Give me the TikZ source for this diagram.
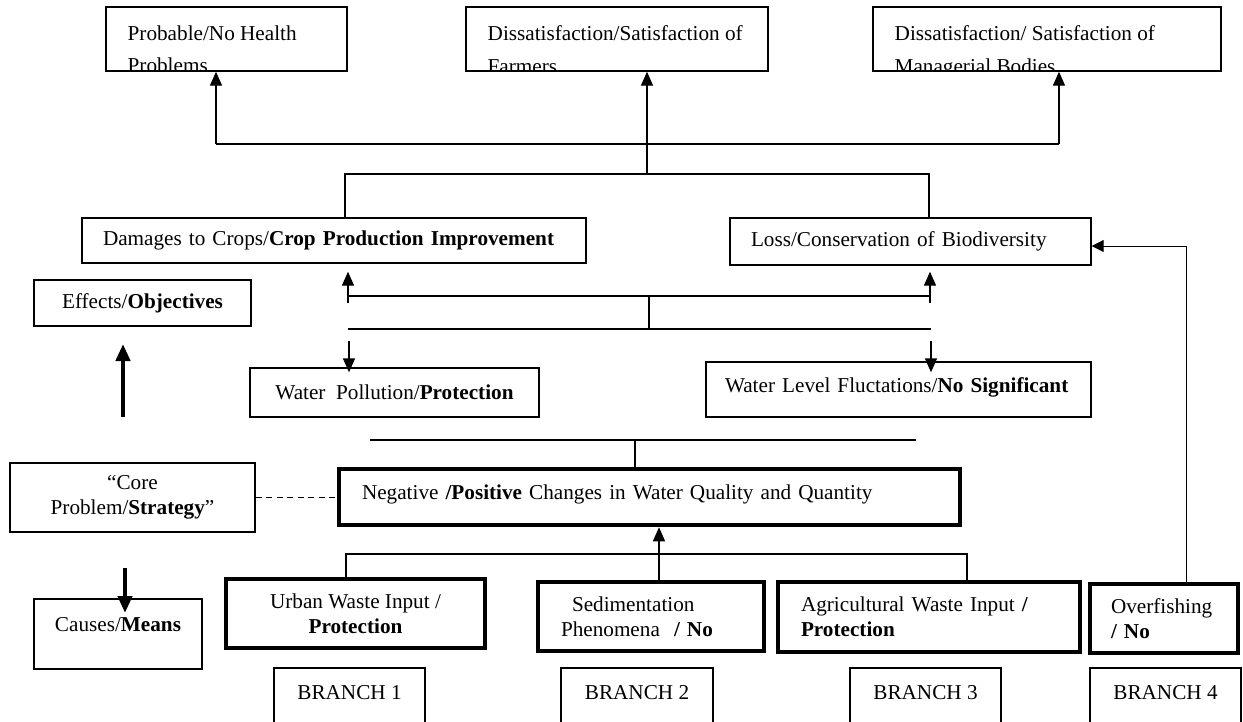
\documentclass[tikz,border=0pt]{standalone}
\usepackage{fontspec}
\setmainfont{Liberation Serif}
\usetikzlibrary{calc,arrows.meta}
\tikzset{
  box/.style={draw, line width=1.4pt, inner sep=0pt, align=center},
  heavy/.style={draw, line width=4.5pt, inner sep=0pt, align=center},
  link/.style={draw, line width=1.4pt},
  arr/.style={link, -{Triangle[length=14pt,width=12pt]}},
  fb/.style={draw, line width=1pt, -{Triangle[length=12pt,width=12pt]}},
  fat/.style={draw, line width=4.5pt, -{Triangle[length=17pt,width=14pt]}},
  dashline/.style={draw, line width=1.2pt, dash pattern=on 6pt off 4.5pt},
  % top row: text runs past the lower border and is cut there
  topbox/.style 2 args={box, minimum height=64pt,
    path picture={\node[draw=none, align=left, inner sep=0pt, minimum width=0pt, minimum height=0pt,
      anchor=north west, font=\fontsize{21.2}{32.5}\selectfont] (#1)
      at ($(path picture bounding box.north west)+(21pt,-18pt)$) {#2};}}
}

\begin{document}
\begin{tikzpicture}[x=1pt, y=-1pt, font=\fontsize{21.2}{25}\selectfont]
  \useasboundingbox (0,0) rectangle (1243,721);

  % effects / objectives
  \node[topbox={hlth-t}{Probable/No Health\\Problems}, minimum width=241pt] (hlth) at (226.5,39) {};
  \node[topbox={frmr-t}{Dissatisfaction/Satisfaction of\\Farmers}, minimum width=302pt] (frmr) at (617,39) {};
  \node[topbox={mngr-t}{Dissatisfaction/ Satisfaction of\\Managerial Bodies}, minimum width=348pt] (mngr) at (1047,39) {};

  \node[box, align=left, minimum height=45pt, inner xsep=21pt, text width=462pt] (dmg) at (334,240.5)
    {Damages to Crops/\textbf{Crop Production Improvement}};
  \node[box, align=left, minimum height=47pt, inner xsep=21pt, text width=319pt] (loss) at (910.5,241.5)
    {Loss/Conservation of Biodiversity};

  \node[box, minimum height=49pt, minimum width=289pt] (poll) at (394.5,392.5)
    {Water\ \ Pollution/\textbf{Protection}};
  \node[box, align=left, minimum height=55pt, inner xsep=19pt, text width=347pt,
        text height=15pt, text depth=10pt] (levl) at (898.5,389.5)
    {Water Level Fluctations/\textbf{No Significant}};

  % core problem
  \node[heavy, align=left, minimum height=56pt, inner xsep=23pt, text width=575pt,
        text height=15pt, text depth=11pt] (core) at (649.5,497)
    {Negative \textbf{/Positive} Changes in Water Quality and Quantity};

  % causes / means
  \node[heavy, minimum width=259pt, minimum height=69pt] (urbn) at (355.5,613.5)
    {Urban Waste Input /\\\textbf{Protection}};
  \node[heavy, align=left, minimum height=69pt, inner xsep=23pt, text width=180pt] (sedi) at (651,616.5)
    {\hspace*{11pt}Sedimentation\\Phenomena\ \ \textbf{/ No}};
  \node[heavy, align=left, minimum height=70pt, inner xsep=23pt, text width=256pt] (agri) at (929,617)
    {Agricultural Waste Input \textbf{/}\\\textbf{Protection}};
  \node[heavy, align=left, minimum height=69pt, inner xsep=21pt, text width=106pt] (ovrf) at (1164,618.5)
    {Overfishing\\\textbf{/ No}};

  % side legend
  \node[box, minimum width=217pt, minimum height=46pt] (eff) at (142.5,303) {Effects/\textbf{Objectives}};
  \node[box, minimum width=245pt, minimum height=69pt] (prob) at (132.5,497.5)
    {“Core\\Problem/\textbf{Strategy}”};
  \node[box, minimum width=168pt, minimum height=70pt, text height=15pt, text depth=21pt] (caus) at (118,634)
    {Causes/\textbf{Means}};

  % branches
  \foreach \n/\x/\w in {1/349.5/151, 2/637/152, 3/925.5/151, 4/1165.5/151}
    \node[box, minimum width=\w pt, minimum height=72pt, text height=15pt, text depth=25pt] (br\n) at (\x,704)
      {BRANCH \n};

  \coordinate (t1) at (216,144);
  \coordinate (t2) at (1059,144);
  \coordinate (t0) at (647,174);
  \coordinate (s1) at (345,174);
  \coordinate (s2) at (929,174);
  \coordinate (h1) at (348,296);
  \coordinate (h2) at (931,296);
  \coordinate (u1) at (348,303);
  \coordinate (u2) at (930,303);
  \coordinate (v0) at (649,296);
  \coordinate (l1) at (348,329);
  \coordinate (l2) at (931,329);
  \coordinate (d1) at (349,341);
  \coordinate (d2) at (931,341);
  \coordinate (e1) at (370,440);
  \coordinate (e2) at (916,440);
  \coordinate (e0) at (635,440);
  \coordinate (g1) at (346,554);
  \coordinate (g2) at (967,554);
  \coordinate (gm) at (659,554);
  \coordinate (f1) at (1186,246);
  \coordinate (upA) at (123,417);
  \coordinate (upB) at (123,344);
  \coordinate (dnA) at (125,568);
  \coordinate (dnB) at (125,613);

  % upper tree
  \draw[link] (t1) -- (t2);
  \draw[arr] (t1) -- (t1 |- hlth.south);
  \draw[arr] (t0) -- (t0 |- frmr.south);
  \draw[arr] (t2) -- (t2 |- mngr.south);
  \draw[link] (s1 |- dmg.north) -- (s1) -- (s2) -- (s2 |- loss.north);

  \draw[link] (h1) -- (h2);
  \draw[arr, shorten >=8pt] (u1) -- (u1 |- dmg.south);
  \draw[arr, shorten >=6pt] (u2) -- (u2 |- loss.south);
  \draw[link] (v0) -- (v0 |- l1);
  \draw[link] (l1) -- (l2);
  \draw[arr, shorten >=-5pt] (d1) -- (d1 |- poll.north);
  \draw[arr, shorten >=-11pt] (d2) -- (d2 |- levl.north);

  \draw[link] (e1) -- (e2);
  \draw[link] (e0) -- (e0 |- core.north);
  \draw[dashline] (prob.east) -- (prob.east -| core.west);

  % lower tree
  \draw[link] (g1 |- urbn.north) -- (g1) -- (g2) -- (g2 |- agri.north);
  \draw[arr] (gm |- sedi.north) -- (gm |- core.south);
  \draw[fb] (f1 |- ovrf.north) -- (f1) -- (loss.east |- f1);

  \draw[fat] (upA) -- (upB);
  \draw[fat] (dnA) -- (dnB);
\end{tikzpicture}
\end{document}
